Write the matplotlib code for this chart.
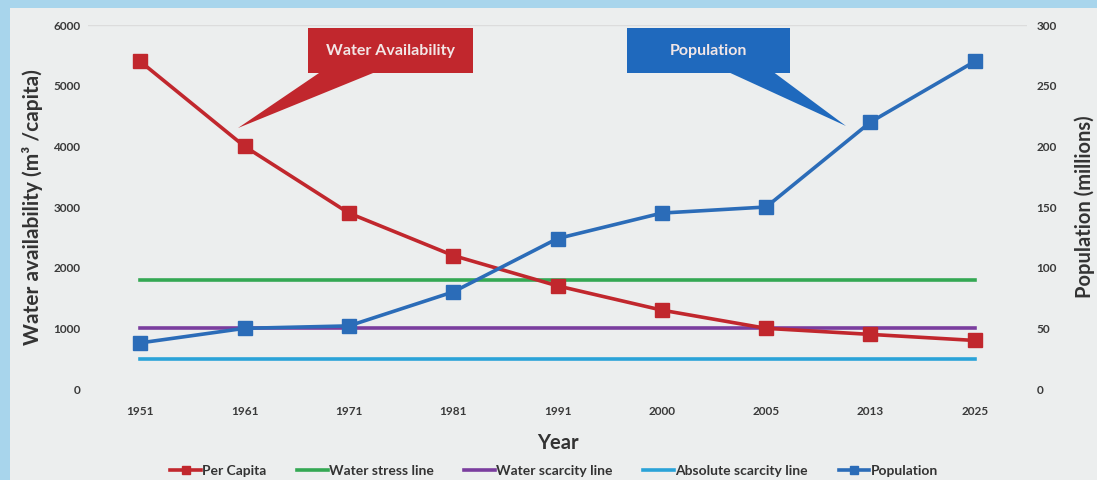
import numpy as np
import matplotlib.pyplot as plt
from matplotlib.patches import Rectangle, Polygon

plt.rcParams['font.family'] = ['Lato', 'DejaVu Sans']

# --------------------------------------------------------------------------------/
years = ['1951', '1961', '1971', '1981', '1991', '2000', '2005', '2013', '2025']
per_capita = [5400, 4000, 2900, 2200, 1700, 1300, 1000, 900, 800]
population = [38, 50, 52, 80, 124, 145, 150, 220, 270]
stress_line = 1800
scarcity_line = 1000
absolute_line = 500
# --------------------------------------------------------------------------------/
W, H = 1097, 480

def px(x, y):
    """pixel position -> figure fraction"""
    return x / W, 1 - y / H

fig = plt.figure(figsize=(W / 100, H / 100), dpi=100, facecolor='#a8d5ec')
fig.patches.append(Rectangle(px(10, 480), (W - 10) / W, 472 / H,
                             transform=fig.transFigure, facecolor='#eceeee',
                             edgecolor='none', zorder=-5))

l, b = px(88, 389)
r, t = px(1027, 25)
axe = fig.add_axes([l, b, r - l, t - b])
axe.set_facecolor('none')
ax2 = axe.twinx()

x = np.arange(len(years))
red, green, purple, cyan, blue = '#c1272d', '#34a853', '#7a3d9e', '#2aa3d8', '#2b6cb8'

axe.plot(x, per_capita, color=red, lw=2.6, marker='s', ms=10, label='Per Capita', zorder=5)
axe.plot(x[[0, -1]], [stress_line] * 2, color=green, lw=2.6, label='Water stress line')
axe.plot(x[[0, -1]], [scarcity_line] * 2, color=purple, lw=2.6, label='Water scarcity line')
axe.plot(x[[0, -1]], [absolute_line] * 2, color=cyan, lw=2.6, label='Absolute scarcity line')
ax2.plot(x, population, color=blue, lw=2.6, marker='s', ms=10, label='Population', zorder=5)

axe.set_xlim(-0.5, len(years) - 0.5)
axe.set_ylim(0, 6000)
ax2.set_ylim(0, 300)
axe.set_yticks(range(0, 6001, 1000))
ax2.set_yticks(range(0, 301, 50))
axe.set_xticks(x)
axe.set_xticklabels(years)
axe.axhline(6000, color='#dcdcdc', lw=1)

for a in (axe, ax2):
    for s in a.spines.values():
        s.set_visible(False)
    a.tick_params(length=0, labelsize=8.5, colors='#3a3a3a')
    for lab in a.get_yticklabels() + a.get_xticklabels():
        lab.set_fontweight('bold')
axe.tick_params(axis='y', pad=5.5)
ax2.tick_params(axis='y', pad=7)
axe.tick_params(axis='x', pad=12.5)

axe.set_xlabel('Year', fontsize=14.5, fontweight='bold', color='#333333')
axe.set_ylabel('Water availability (m³ /capita)', fontsize=15,
               fontweight='bold', color='#333333')
ax2.set_ylabel('Population (millions)', fontsize=14.5, fontweight='bold', color='#333333',
               rotation=90)
axe.xaxis.set_label_coords(0.5, -0.12)
axe.yaxis.set_label_coords(-0.048, 0.5)
ax2.yaxis.set_label_coords(1.051, 0.5)

# callout boxes
def callout(x0, x1, y0, y1, base, tip, text, color):
    fig.patches.append(Polygon([px(*base[0]), px(*base[1]), px(*tip)], closed=True,
                               transform=fig.transFigure, facecolor=color,
                               edgecolor='none', zorder=3))
    fig.patches.append(Rectangle(px(x0, y1), (x1 - x0) / W, (y1 - y0) / H,
                                 transform=fig.transFigure, facecolor=color,
                                 edgecolor='none', zorder=3))
    cx, cy = px((x0 + x1) / 2, (y0 + y1) / 2)
    fig.text(cx, cy, text, color='#f2e6e6', fontsize=11.5, fontweight='bold',
             ha='center', va='center', zorder=4)

callout(308, 473, 28, 73, [(322, 71), (378, 71)], (238, 128), 'Water Availability', '#c1272d')
callout(627, 790, 28, 73, [(726, 71), (772, 71)], (846, 126), 'Population', '#1f69bd')

h1, l1 = axe.get_legend_handles_labels()
h2, l2 = ax2.get_legend_handles_labels()
leg = fig.legend(h1 + h2, l1 + l2, loc='center', bbox_to_anchor=px(554, 471), ncol=5,
                 frameon=False, fontsize=10, handlelength=2.2, columnspacing=2.2,
                 handletextpad=0.1, markerscale=0.6)
for txt in leg.get_texts():
    txt.set_fontweight('bold')
    txt.set_color('#333333')

fig.savefig('out.png', dpi=100, facecolor=fig.get_facecolor())
